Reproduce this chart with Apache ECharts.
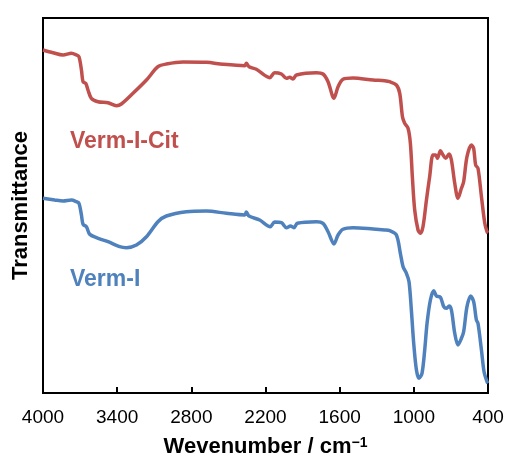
<!DOCTYPE html>
<html>
<head>
<meta charset="utf-8">
<script src="https://cdn.jsdelivr.net/npm/echarts@6/dist/echarts.min.js"></script>
<style>
  html, body { margin: 0; padding: 0; background: #fff; }
  #chart { width: 506px; height: 456px; }
</style>
</head>
<body>
<div id="chart"></div>
<script>
  // wavenumber (cm-1) and transmittance (a.u.)
  const citWave = [4000, 3919, 3838, 3770, 3730, 3709, 3689, 3676, 3654, 3636, 3609, 3555, 3474, 3406, 3366, 3272, 3163, 3070, 3002, 2867, 2678, 2544, 2368, 2355, 2333, 2274, 2166, 2126, 2071, 2031, 2004, 1977, 1950, 1788, 1735, 1694, 1646, 1613, 1573, 1492, 1330, 1236, 1195, 1141, 1114, 1092, 1074, 1047, 1028, 1012, 993, 966, 947, 926, 898, 872, 845, 823, 809, 785, 764, 742, 715, 696, 669, 643, 615, 597, 570, 534, 516, 500, 481, 453, 426, 408, 400];
  const citValues = [343, 340.3, 338, 339.7, 338, 336.3, 323, 311.3, 309.7, 303, 294.7, 291.3, 290.3, 287.3, 289, 299.7, 313, 326.3, 329, 331, 330.7, 328.7, 327.3, 329.7, 326.3, 323.7, 315.3, 320.3, 319, 314.7, 315.7, 314, 318, 320.3, 319, 311.3, 294.7, 306.3, 313.7, 315, 313, 312.3, 311.3, 308, 299.7, 276.3, 269.7, 264.7, 249.7, 216.3, 183, 163, 159.7, 166.3, 193, 216.3, 238, 238, 234.7, 242.3, 238, 234.7, 239, 233, 209.7, 194.7, 204.7, 211.3, 236.3, 248, 244.7, 228, 224.7, 196.3, 169.7, 161.3, 160];

  const vermWave = [4000, 3905, 3838, 3770, 3730, 3709, 3689, 3676, 3649, 3622, 3568, 3474, 3380, 3325, 3244, 3163, 3070, 3002, 2840, 2678, 2516, 2368, 2355, 2333, 2247, 2161, 2126, 2071, 2031, 1998, 1970, 1942, 1788, 1735, 1694, 1646, 1613, 1573, 1492, 1330, 1236, 1195, 1141, 1109, 1087, 1060, 1039, 1020, 1001, 979, 958, 934, 912, 893, 866, 839, 817, 785, 758, 737, 715, 696, 669, 643, 615, 597, 570, 540, 516, 494, 481, 453, 432, 408, 400];
  const vermValues = [194.7, 193, 192, 193, 191.3, 189.7, 178, 168.7, 166.3, 158.7, 155.3, 151.3, 146.3, 145.3, 148, 156.3, 171.3, 177, 181.3, 182, 179.7, 178, 181, 177, 173, 166.3, 171, 170.3, 165.3, 167, 165.3, 169.7, 171.3, 169.7, 161.3, 149, 158, 163.7, 165.3, 164, 163, 162.3, 158, 139.7, 126.3, 119.7, 111.3, 83, 49.7, 23, 14.7, 19.7, 43, 69.7, 93, 102.3, 97, 95.7, 86.3, 84.7, 87, 83, 59.7, 48, 54.7, 61.3, 86.3, 97, 91.3, 73, 69.7, 43, 21.3, 11.3, 9.7];

  const xTicks = [400, 1000, 1600, 2200, 2800, 3400, 4000];

  const zip = (xs, ys) => xs.map((x, i) => [x, ys[i]]);

  const chart = echarts.init(document.getElementById('chart'));
  const font = '"Liberation Sans", Arial, sans-serif';

  const lineBase = {
    type: 'line',
    showSymbol: false,
    smooth: 0.3,
    silent: true
  };

  chart.setOption({
    animation: false,
    grid: {
      left: 43, right: 18, top: 18, bottom: 63,
      outerBoundsMode: 'none',
      containLabel: false,
      show: true,
      borderColor: '#000',
      borderWidth: 2
    },
    xAxis: {
      type: 'value',
      inverse: true,
      min: xTicks[0],
      max: xTicks[xTicks.length - 1],
      interval: 600,
      name: '{a|Wevenumber / cm}{s|\u22121}',
      nameLocation: 'middle',
      nameGap: 43,
      nameTextStyle: {
        rich: {
          a: { fontFamily: font, fontSize: 22, fontWeight: 'bold', color: '#000' },
          s: { fontFamily: font, fontSize: 14, fontWeight: 'bold', color: '#000', verticalAlign: 'top', padding: [0, 0, 8, 0] }
        }
      },
      axisLine: { lineStyle: { color: '#000', width: 2 } },
      axisTick: { inside: true, length: 6, lineStyle: { color: '#000', width: 2 } },
      axisLabel: { color: '#000', fontFamily: font, fontSize: 19, margin: 15, formatter: v => String(v) },
      splitLine: { show: false }
    },
    yAxis: {
      type: 'value',
      min: 0,
      max: 375,
      name: 'Transmittance',
      nameLocation: 'middle',
      nameGap: 11,
      nameTextStyle: { fontFamily: font, fontSize: 22, fontWeight: 'bold', color: '#000' },
      axisLine: { show: true, lineStyle: { color: '#000', width: 2 } },
      axisTick: { show: false },
      axisLabel: { show: false },
      splitLine: { show: false }
    },
    graphic: [
      { type: 'text', left: 70, top: 130, style: { text: 'Verm-I-Cit', fill: '#C0504D', font: 'bold 23px ' + font } },
      { type: 'text', left: 70, top: 268, style: { text: 'Verm-I', fill: '#4F81BD', font: 'bold 23px ' + font } }
    ],
    series: [
      Object.assign({}, lineBase, { name: 'Verm-I-Cit', data: zip(citWave, citValues), itemStyle: { color: '#C0504D' }, lineStyle: { width: 3.5, color: '#C0504D' } }),
      Object.assign({}, lineBase, { name: 'Verm-I', data: zip(vermWave, vermValues), itemStyle: { color: '#4F81BD' }, lineStyle: { width: 3.5, color: '#4F81BD' } })
    ]
  });
</script>
</body>
</html>
